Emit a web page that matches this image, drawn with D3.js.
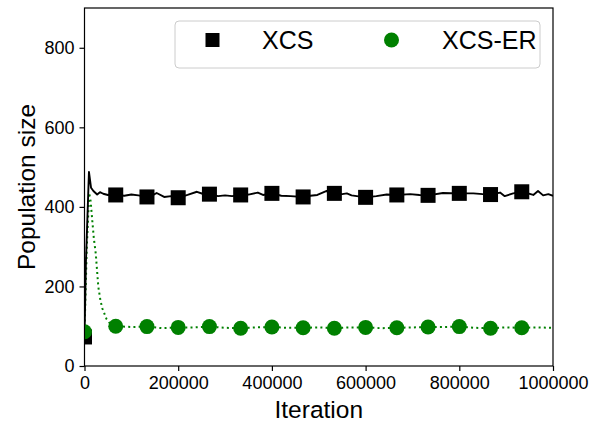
<!DOCTYPE html>
<html>
<head>
<meta charset="utf-8">
<script src="https://cdn.jsdelivr.net/npm/d3@7"></script>
<style>
    body { margin: 0; background: #ffffff; }
</style>
</head>
<body>
<div id="chart"></div>
<script>
// XCS population size over iterations
const xcs_iter = [0, 3000, 9500, 14000, 19000, 27000, 33000, 40000, 50000, 58000,
    66667, 85000, 100000, 115000, 133333, 145000, 154000, 170000, 185000, 200000,
    220000, 240000, 252000, 266667, 285000, 300000, 315000, 333333, 350000, 370000,
    381000, 400000, 420000, 440000, 466667, 482000, 497000, 517000, 533333, 550000,
    560000, 570000, 600000, 623000, 645000, 666667, 695000, 715000, 733333, 765000,
    800000, 830000, 850000, 866667, 887000, 897000, 915000, 933333, 958000, 968000,
    979000, 990000, 1000000];
const xcs_size = [73, 260, 488, 448, 440, 431, 437, 433, 430, 432,
    430, 428, 431, 429, 425, 429, 435, 425, 427, 423,
    430, 438, 433, 432, 427, 429, 427, 430, 431, 436,
    430, 434, 428, 427, 425, 428, 430, 440, 434, 432,
    434, 429, 424, 427, 431, 430, 432, 430, 429, 435,
    434, 434, 432, 431, 436, 427, 434, 438, 430, 440,
    429, 432, 428];

// XCS-ER population size over iterations
const er_iter = [0, 5000, 10000, 13000, 16500, 20000, 24000, 29500, 34000, 38000,
    47000, 55000, 66667, 100000, 133333, 166667, 200000, 233333, 266667, 300000,
    333333, 366667, 400000, 433333, 466667, 500000, 533333, 566667, 600000, 633333,
    666667, 700000, 733333, 766667, 800000, 833333, 866667, 900000, 933333, 966667,
    1000000];
const er_size = [86, 300, 435, 415, 367, 320, 283, 199, 165, 145,
    118, 106, 100, 98, 99, 95, 97, 97, 99, 96,
    95, 97, 98, 96, 96, 97, 95, 97, 97, 95,
    96, 97, 98, 98, 99, 96, 95, 97, 96, 97,
    96];

// marker positions
const marker_iter = [0, 66667, 133333, 200000, 266667, 333333, 400000, 466667,
    533333, 600000, 666667, 733333, 800000, 866667, 933333];
const xcs_markers = [73, 430, 425, 423, 432, 430, 434, 425, 434, 424, 430, 429, 434, 431, 438];
const er_markers = [86, 100, 99, 97, 99, 95, 98, 96, 95, 97, 96, 98, 99, 95, 96];

const x_ticks = [0, 200000, 400000, 600000, 800000, 1000000];
const y_ticks = [0, 200, 400, 600, 800];

const series_names = ['XCS', 'XCS-ER'];

(function() {
    const width = 602, height = 427;
    const margins = {top: 8, right: 49, bottom: 61, left: 84.5};
    const font = '"Liberation Sans", Arial, sans-serif';
    const green = '#008000';

    let svg = d3.select('#chart').append('svg')
        .attr('width', width)
        .attr('height', height)
        .attr('font-family', font);

    let x = d3.scaleLinear().domain([0, 1000000]).range([margins.left, width - margins.right]),
        y = d3.scaleLinear().domain([0, 900]).range([height - margins.bottom, margins.top]);

    svg.append('clipPath')
        .attr('id', 'plot-clip')
        .append('rect')
        .attr('x', x(0))
        .attr('y', y(900))
        .attr('width', x(1000000) - x(0))
        .attr('height', y(0) - y(900));

    let line = d3.line()
        .x((d) => x(d[0]))
        .y((d) => y(d[1]));

    let plot = svg.append('g').attr('clip-path', 'url(#plot-clip)');

    plot.append('path')
        .datum(d3.zip(er_iter, er_size))
        .attr('fill', 'none')
        .attr('stroke', green)
        .attr('stroke-width', 2)
        .attr('stroke-dasharray', '2,3.2')
        .attr('d', line);

    plot.append('path')
        .datum(d3.zip(xcs_iter, xcs_size))
        .attr('fill', 'none')
        .attr('stroke', '#000000')
        .attr('stroke-width', 1.9)
        .attr('stroke-linejoin', 'round')
        .attr('d', line);

    const sq = 15;
    plot.selectAll('rect.xcs')
        .data(d3.zip(marker_iter, xcs_markers))
        .enter().append('rect')
        .attr('class', 'xcs')
        .attr('x', (d) => x(d[0]) - sq / 2)
        .attr('y', (d) => y(d[1]) - sq / 2)
        .attr('width', sq)
        .attr('height', sq)
        .attr('fill', '#000000');

    plot.selectAll('circle.er')
        .data(d3.zip(marker_iter, er_markers))
        .enter().append('circle')
        .attr('class', 'er')
        .attr('cx', (d) => x(d[0]))
        .attr('cy', (d) => y(d[1]))
        .attr('r', 7.5)
        .attr('fill', green);

    // frame
    svg.append('rect')
        .attr('x', x(0))
        .attr('y', y(900))
        .attr('width', x(1000000) - x(0))
        .attr('height', y(0) - y(900))
        .attr('fill', 'none')
        .attr('stroke', '#000000')
        .attr('stroke-width', 1.2);

    let x_axis = svg.append('g')
        .attr('transform', 'translate(0,' + y(0) + ')')
        .call(d3.axisBottom(x).tickValues(x_ticks).tickFormat(d3.format('d')).tickSize(5).tickPadding(5));

    let y_axis = svg.append('g')
        .attr('transform', 'translate(' + x(0) + ',0)')
        .call(d3.axisLeft(y).tickValues(y_ticks).tickSize(5).tickPadding(5));

    [x_axis, y_axis].forEach(function(a) {
        a.select('.domain').remove();
        a.selectAll('line').attr('stroke', '#000000').attr('stroke-width', 1.2);
        a.selectAll('text')
            .attr('fill', '#000000')
            .attr('font-family', font)
            .attr('font-size', 18);
    });

    svg.append('text')
        .attr('x', (x(0) + x(1000000)) / 2)
        .attr('y', 418)
        .attr('text-anchor', 'middle')
        .attr('font-size', 24.5)
        .attr('fill', '#000000')
        .text('Iteration');

    svg.append('text')
        .attr('transform', 'translate(35,' + (y(0) + y(900)) / 2 + ') rotate(-90)')
        .attr('text-anchor', 'middle')
        .attr('font-size', 24.5)
        .attr('fill', '#000000')
        .text('Population size');

    // legend
    let legend = svg.append('g');

    legend.append('rect')
        .attr('x', 175)
        .attr('y', 21)
        .attr('width', 365)
        .attr('height', 47)
        .attr('rx', 4)
        .attr('fill', '#ffffff')
        .attr('fill-opacity', 0.8)
        .attr('stroke', '#cccccc')
        .attr('stroke-width', 1);

    legend.append('rect')
        .attr('x', 212.5 - 7)
        .attr('y', 40 - 7)
        .attr('width', 14)
        .attr('height', 14)
        .attr('fill', '#000000');

    legend.append('circle')
        .attr('cx', 391.5)
        .attr('cy', 40)
        .attr('r', 7.5)
        .attr('fill', green);

    legend.selectAll('text')
        .data(series_names)
        .enter().append('text')
        .attr('x', (d, i) => i === 0 ? 262 : 442)
        .attr('y', 49)
        .attr('font-size', 25)
        .attr('fill', '#000000')
        .text((d) => d);
})();
</script>
</body>
</html>
